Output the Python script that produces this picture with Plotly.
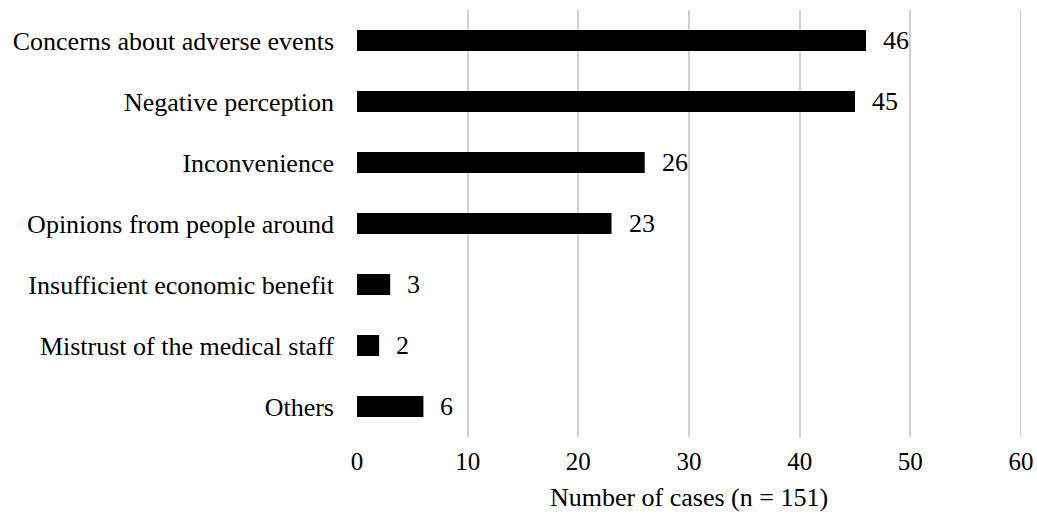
import plotly.graph_objects as go

categories = [
    "Concerns about adverse events",
    "Negative perception",
    "Inconvenience",
    "Opinions from people around",
    "Insufficient economic benefit",
    "Mistrust of the medical staff",
    "Others",
]
cases = [46, 45, 26, 23, 3, 2, 6]

FONT = "Liberation Serif, Times New Roman, serif"
SIZE = 26
GRID = "#d0d0d0"

fig = go.Figure(
    go.Bar(
        x=cases,
        y=categories,
        orientation="h",
        marker=dict(color="black", line=dict(width=0)),
        width=0.345,
        cliponaxis=False,
    )
)

# value labels to the right of each bar
for c, v in zip(categories, cases):
    fig.add_annotation(
        x=v, y=c, text=str(v), showarrow=False,
        xanchor="left", xshift=15,
        font=dict(family=FONT, size=SIZE, color="black"),
    )

# closing gridline at the right edge of the axis
fig.add_shape(
    type="line", xref="x", yref="paper", x0=60, x1=60, y0=0, y1=1,
    line=dict(color=GRID, width=2), layer="below",
)

fig.update_layout(
    width=1037, height=518,
    margin=dict(l=357, r=16, t=10, b=81),
    paper_bgcolor="white", plot_bgcolor="white",
    showlegend=False,
    font=dict(family=FONT, size=SIZE, color="black"),
    xaxis=dict(
        range=[0, 60], dtick=10, tick0=0,
        automargin=False, ticklabeloverflow="allow",
        showgrid=True, gridcolor=GRID, gridwidth=2,
        zeroline=False, showline=False,
        ticks="", ticklabelstandoff=7,
        tickfont=dict(family=FONT, size=SIZE - 1),
        title=dict(text="Number of cases (n = 151)", standoff=13,
                   font=dict(family=FONT, size=SIZE)),
    ),
    yaxis=dict(
        categoryorder="array", categoryarray=categories[::-1],
        automargin=False,
        showgrid=False, zeroline=False, showline=False,
        ticks="", ticklabelstandoff=22,
        tickfont=dict(family=FONT, size=SIZE),
    ),
)

fig.write_html("out.html")
